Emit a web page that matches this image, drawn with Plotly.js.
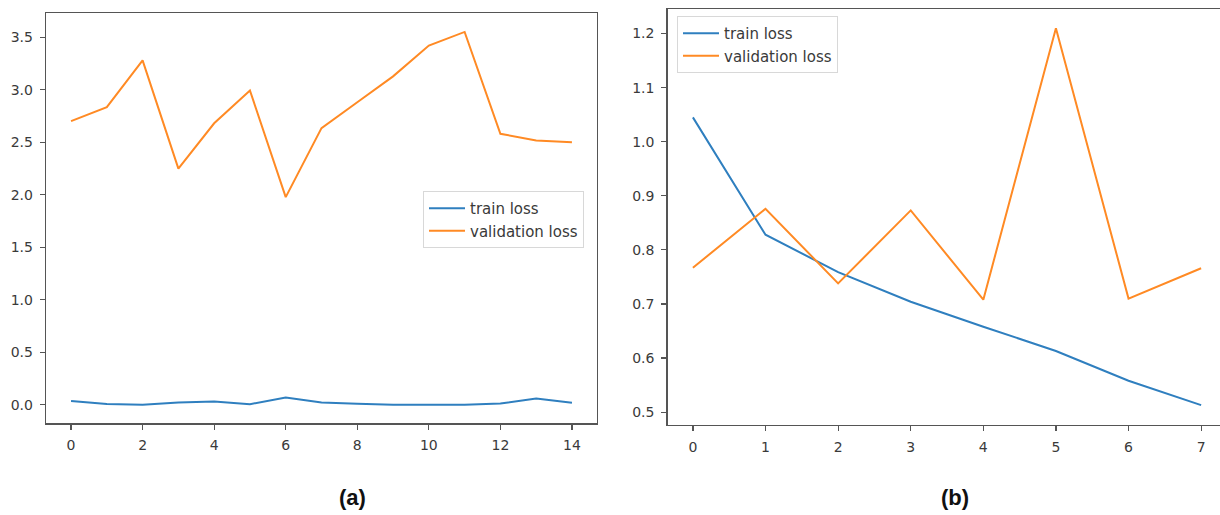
<!DOCTYPE html>
<html>
<head>
<meta charset="utf-8">
<script src="https://cdn.plot.ly/plotly-3.0.1.min.js"></script>
<style>html,body{margin:0;padding:0;background:#fff;}#chart{width:1220px;height:515px;}</style>
</head>
<body>
<div id="chart"></div>
<script>
// Panel (a): 15 epochs
const epochsA = [0,1,2,3,4,5,6,7,8,9,10,11,12,13,14];
const trainLossA = [0.035,0.006,0.0,0.02,0.03,0.005,0.067,0.02,0.008,0.0,0.0,0.0,0.01,0.058,0.018];
const valLossA = [2.70,2.834,3.279,2.248,2.68,2.993,1.977,2.634,2.88,3.127,3.42,3.55,2.58,2.517,2.50];
const xTicksA = [0,2,4,6,8,10,12,14];
const yTicksA = [0.0,0.5,1.0,1.5,2.0,2.5,3.0,3.5];

// Panel (b): 8 epochs
const epochsB = [0,1,2,3,4,5,6,7];
const trainLossB = [1.045,0.828,0.759,0.704,0.658,0.613,0.558,0.513];
const valLossB = [0.767,0.876,0.738,0.873,0.708,1.21,0.710,0.766];
const xTicksB = [0,1,2,3,4,5,6,7];
const yTicksB = [0.5,0.6,0.7,0.8,0.9,1.0,1.1,1.2];

const seriesNames = ['train loss','validation loss'];
const panelLabels = ['(a)','(b)'];

const blue = '#2f7fbf';
const orange = '#ff8a24';
const W = 1220, H = 515;

const traces = [
  {x: epochsA, y: trainLossA, name: seriesNames[0], type:'scatter', mode:'lines', line:{color:blue,width:2}, xaxis:'x', yaxis:'y', legend:'legend'},
  {x: epochsA, y: valLossA, name: seriesNames[1], type:'scatter', mode:'lines', line:{color:orange,width:2}, xaxis:'x', yaxis:'y', legend:'legend'},
  {x: epochsB, y: trainLossB, name: seriesNames[0], type:'scatter', mode:'lines', line:{color:blue,width:2}, xaxis:'x2', yaxis:'y2', legend:'legend2'},
  {x: epochsB, y: valLossB, name: seriesNames[1], type:'scatter', mode:'lines', line:{color:orange,width:2}, xaxis:'x2', yaxis:'y2', legend:'legend2'}
];

const tickFont = {family:'DejaVu Sans', size:14, color:'#3a3a3a'};
const axisCommon = {
  showgrid:false, zeroline:false, showline:true, linecolor:'#555', linewidth:1.3,
  ticks:'outside', ticklen:5, tickwidth:1.2, tickcolor:'#555', tickfont:tickFont
};
const legendCommon = {
  bgcolor:'rgba(255,255,255,0.9)', bordercolor:'#d8d8d8', borderwidth:1,
  font:{family:'DejaVu Sans', size:15, color:'#3a3a3a'}, xanchor:'left', yanchor:'top',
  tracegroupgap:0, itemwidth:36
};

const layout = {
  width: W, height: H,
  margin:{l:0,r:0,t:0,b:0},
  paper_bgcolor:'#fff', plot_bgcolor:'#fff',
  showlegend:true,
  xaxis: Object.assign({}, axisCommon, {domain:[46/W, 597/W], range:[-0.7,14.7], tickvals:xTicksA, mirror:true, anchor:'y', ticklabelstandoff:4}),
  yaxis: Object.assign({}, axisCommon, {domain:[1-423.3/H, 1-13.3/H], range:[-0.1775,3.7275], tickvals:yTicksA, tickformat:'.1f', mirror:true, anchor:'x', ticklabelstandoff:4}),
  xaxis2: Object.assign({}, axisCommon, {domain:[667.5/W, 1], range:[-0.35,7.26], tickvals:xTicksB, mirror:true, anchor:'y2', ticklabelstandoff:4}),
  yaxis2: Object.assign({}, axisCommon, {domain:[1-424.5/H, 1-9.3/H], range:[0.4771,1.2449], tickvals:yTicksB, tickformat:'.1f', mirror:false, anchor:'x2', ticklabelstandoff:4}),
  legend: Object.assign({}, legendCommon, {x:423/W, y:1-191/H}),
  legend2: Object.assign({}, legendCommon, {x:677/W, y:1-16/H}),
  annotations: [
    {text:'<b>'+panelLabels[0]+'</b>', xref:'paper', yref:'paper', x:352/W, y:1-497/H, showarrow:false, font:{family:'Liberation Sans', size:22, color:'#111'}, xanchor:'center', yanchor:'middle'},
    {text:'<b>'+panelLabels[1]+'</b>', xref:'paper', yref:'paper', x:955/W, y:1-497/H, showarrow:false, font:{family:'Liberation Sans', size:22, color:'#111'}, xanchor:'center', yanchor:'middle'}
  ]
};

Plotly.newPlot('chart', traces, layout, {displayModeBar:false, staticPlot:true});
</script>
</body>
</html>
